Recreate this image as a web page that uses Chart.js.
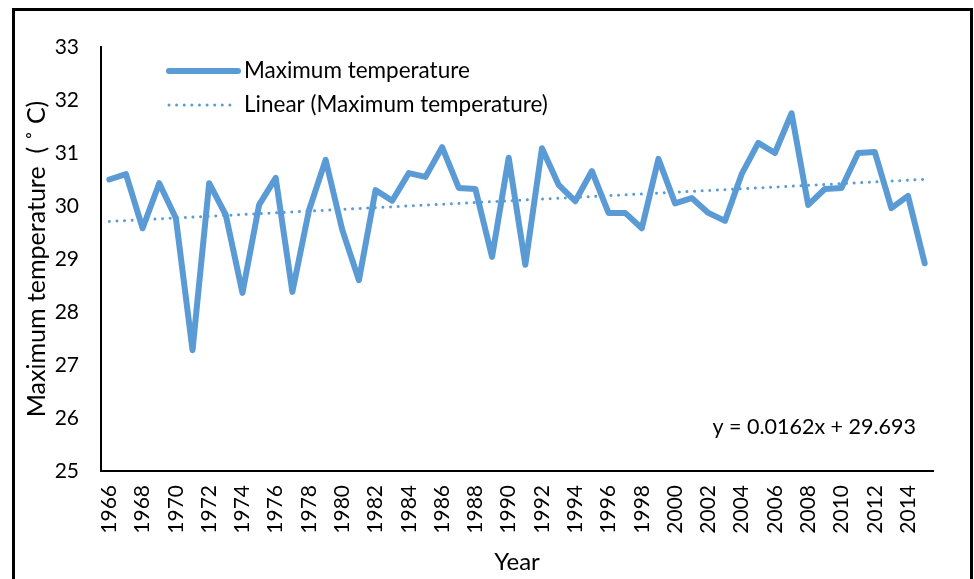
<!DOCTYPE html>
<html>
<head>
<meta charset="utf-8">
<script src="https://cdn.jsdelivr.net/npm/chart.js@4.4.0/dist/chart.umd.min.js"></script>
<style>
  html, body { margin: 0; padding: 0; background: #fff; overflow: hidden; }
  #wrap { position: relative; width: 974px; height: 579px; }
  #frame { position: absolute; left: 12px; top: 8px; width: 955px; height: 600px; border: 3px solid #000; pointer-events: none; }
  canvas { position: absolute; left: 0; top: 0; }
</style>
</head>
<body>
<div id="wrap">
  <canvas id="chart" width="974" height="579"></canvas>
  <div id="frame"></div>
</div>
<script>
  // years on the x axis
  const years = ['1966', '1967', '1968', '1969', '1970', '1971', '1972', '1973', '1974', '1975',
    '1976', '1977', '1978', '1979', '1980', '1981', '1982', '1983', '1984', '1985',
    '1986', '1987', '1988', '1989', '1990', '1991', '1992', '1993', '1994', '1995',
    '1996', '1997', '1998', '1999', '2000', '2001', '2002', '2003', '2004', '2005',
    '2006', '2007', '2008', '2009', '2010', '2011', '2012', '2013', '2014', '2015'];

  // maximum temperature (°C)
  const maxTemp = [30.5, 30.6, 29.58, 30.43, 29.77, 27.28, 30.43, 29.83, 28.36, 30.02,
    30.53, 28.38, 29.92, 30.87, 29.55, 28.6, 30.3, 30.1, 30.62, 30.55,
    31.11, 30.34, 30.32, 29.04, 30.91, 28.89, 31.09, 30.4, 30.09, 30.66,
    29.87, 29.87, 29.58, 30.89, 30.05, 30.15, 29.87, 29.72, 30.6, 31.19,
    31.0, 31.75, 30.02, 30.32, 30.34, 31.0, 31.02, 29.96, 30.19, 28.92];

  // trend line as printed on the chart: y = 0.0162x + 29.693
  const trendSlope = 0.0162;
  const trendIntercept = 29.693;
  const trendLabel = 'y = 0.0162x + 29.693';
  const trend = maxTemp.map((v, i) => trendSlope * (i + 1) + trendIntercept);

  const yTicks = [25, 26, 27, 28, 29, 30, 31, 32, 33];

  const blue = '#5B9BD5';
  const font = 'Lato';

  // legend and equation drawn inside the plot
  const extras = {
    id: 'extras',
    afterDraw(chart) {
      const { ctx, chartArea: a } = chart;
      ctx.save();
      ctx.strokeStyle = blue;
      ctx.lineCap = 'round';
      ctx.lineWidth = 6;
      ctx.beginPath();
      ctx.moveTo(a.left + 68, a.top + 24);
      ctx.lineTo(a.left + 137, a.top + 24);
      ctx.stroke();
      ctx.lineWidth = 3;
      ctx.setLineDash([0.01, 7.6]);
      ctx.beginPath();
      ctx.moveTo(a.left + 68, a.top + 58);
      ctx.lineTo(a.left + 131, a.top + 58);
      ctx.stroke();
      ctx.setLineDash([]);
      ctx.fillStyle = '#000';
      ctx.font = '22.5px ' + font;
      ctx.textBaseline = 'middle';
      ctx.textAlign = 'left';
      ctx.fillText('Maximum temperature', a.left + 143, a.top + 24);
      ctx.fillText('Linear (Maximum temperature)', a.left + 143, a.top + 58);
      ctx.font = '21.5px ' + font;
      ctx.textAlign = 'right';
      ctx.fillText(trendLabel, a.right - 17, a.bottom - 44);
      ctx.restore();
    }
  };

  const ctx = document.getElementById('chart').getContext('2d');
  new Chart(ctx, {
    type: 'line',
    data: {
      labels: years,
      datasets: [{
        label: 'Maximum temperature',
        data: maxTemp,
        borderColor: blue,
        borderWidth: 6,
        borderJoinStyle: 'round',
        borderCapStyle: 'round',
        pointRadius: 0,
        tension: 0,
        order: 0
      }, {
        label: 'Linear (Maximum temperature)',
        data: trend,
        borderColor: blue,
        borderWidth: 3,
        borderDash: [0.01, 7.6],
        borderCapStyle: 'round',
        pointRadius: 0,
        tension: 0,
        order: 1
      }]
    },
    options: {
      responsive: false,
      animation: false,
      layout: { padding: { left: 0, top: 47, right: 41, bottom: 0 } },
      plugins: {
        legend: { display: false },
        tooltip: { enabled: false }
      },
      scales: {
        x: {
          offset: true,
          grid: { display: false, drawTicks: false },
          border: { display: true, color: '#000', width: 2 },
          ticks: {
            autoSkip: false,
            maxRotation: 90,
            minRotation: 90,
            padding: 14,
            color: '#000',
            font: { family: font, size: 21 },
            callback: function (val, idx) {
              return idx % 2 === 0 ? this.getLabelForValue(val) : '';
            }
          },
          title: {
            display: true,
            text: 'Year',
            color: '#000',
            font: { family: font, size: 24 },
            padding: { top: 0, bottom: 2 }
          },
          afterFit(scale) { scale.height = 108; }
        },
        y: {
          min: 25,
          max: 33,
          grid: { display: false, drawTicks: false },
          border: { display: true, color: '#000', width: 2 },
          afterBuildTicks(scale) { scale.ticks = yTicks.map(v => ({ value: v })); },
          ticks: {
            padding: 22,
            color: '#000',
            font: { family: font, size: 21 }
          },
          title: {
            display: true,
            text: 'Maximum temperature  ( ˚ C)',
            color: '#000',
            font: { family: font, size: 25 },
            padding: { top: 22, bottom: 0 }
          },
          afterFit(scale) { scale.width = 101; }
        }
      }
    },
    plugins: [extras]
  });
</script>
</body>
</html>
